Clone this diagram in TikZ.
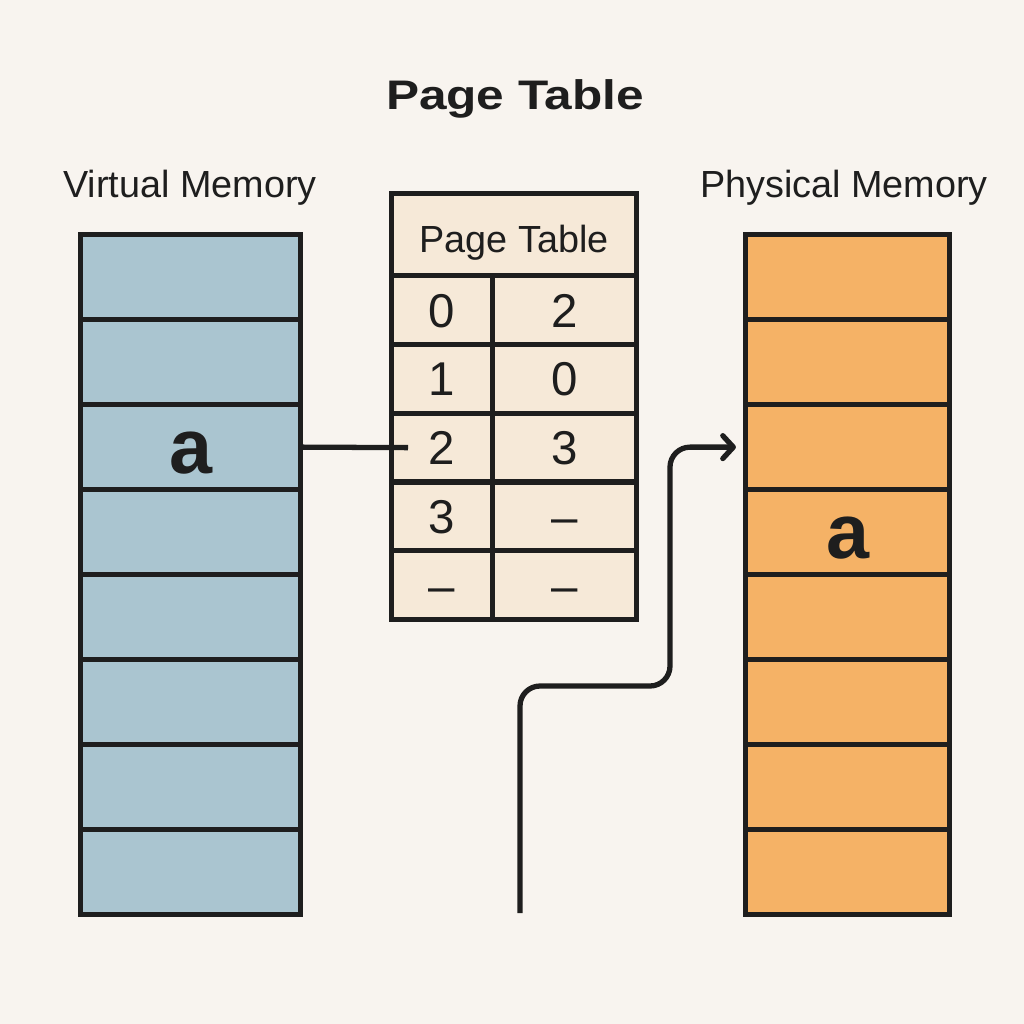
\documentclass[tikz,border=0pt]{standalone}
\usepackage{fontspec}
\setmainfont{Liberation Sans}
\newfontfamily\titlefont[FakeStretch=1.2]{Liberation Sans}
\usetikzlibrary{positioning,calc,arrows.meta}
\definecolor{paper}{HTML}{F8F4EF}
\definecolor{vmblue}{HTML}{AAC5D0}
\definecolor{pmorange}{HTML}{F5B266}
\definecolor{ptbeige}{HTML}{F6E9D8}
\definecolor{ink}{HTML}{1E1E1E}

\begin{document}
\begin{tikzpicture}[x=0.02cm,y=-0.02cm]
\tikzset{
  frame/.style={draw=ink, line width=3pt},
  vslot/.style={frame, fill=vmblue, minimum width=4.4cm, minimum height=1.7cm, inner sep=0pt, anchor=north west},
  pslot/.style={frame, fill=pmorange, minimum width=4.08cm, minimum height=1.7cm, inner sep=0pt, anchor=north west},
  cell/.style={frame, fill=ptbeige, minimum height=1.376cm, inner sep=0pt, anchor=north west, text=ink,
    text height=19.5pt, text depth=0pt, font=\fontsize{27}{30}\selectfont},
  head/.style={anchor=base, text=ink, font=\fontsize{21.5}{25}\selectfont},
  big/.style={anchor=base, text=ink, font=\bfseries\fontsize{44}{48}\selectfont},
  link/.style={draw=ink, line width=3pt, rounded corners=0.4cm}
}
\fill[paper] (0,0) rectangle (1024,1024);
\useasboundingbox (0,0) rectangle (1024,1024);

% titles
\node[anchor=base, text=ink, font=\titlefont\bfseries\fontsize{23.5}{27}\selectfont] (title) at (515,110) {Page Table};
\node[head] (vlabel) at (190,197) {Virtual Memory};
\node[head] (plabel) at (844,197) {Physical Memory};

% memory columns
\foreach \i in {1,...,8} {
  \node[vslot] (v\i) at (78,{232+(\i-1)*85}) {};
  \node[pslot] (p\i) at (743,{232+(\i-1)*85}) {};
}
\node[big] (va) at ($(v3.center)+(0,26)$) {a};
\node[big] (pa) at ($(p4.center)+(0,26)$) {a};

% page table
\node[cell, minimum width=4.9cm, minimum height=1.64cm, text height=0.72cm, font=\fontsize{21.5}{25}\selectfont] (ptop) at (389,191) {Page Table};
\foreach \k/\f [count=\r from 0] in {0/2,1/0,2/3,3/--,--/--} {
  \node[cell, minimum width=2.02cm] (k\r) at (389,{273+\r*68.8}) {\k};
  \node[cell, minimum width=2.88cm] (f\r) at (490,{273+\r*68.8}) {\f};
}

% connectors
\coordinate (hit) at ($(k2.west)+(19,0)$);
\draw[link] (v3.east) -- (hit);
\coordinate (src) at (520,913);
\coordinate (bend) at (670,686);
\draw[link, -{Straight Barb[length=6pt,width=13pt,round]}, shorten >=4pt] (src) |- (bend) |- (p3.west);
\end{tikzpicture}
\end{document}
